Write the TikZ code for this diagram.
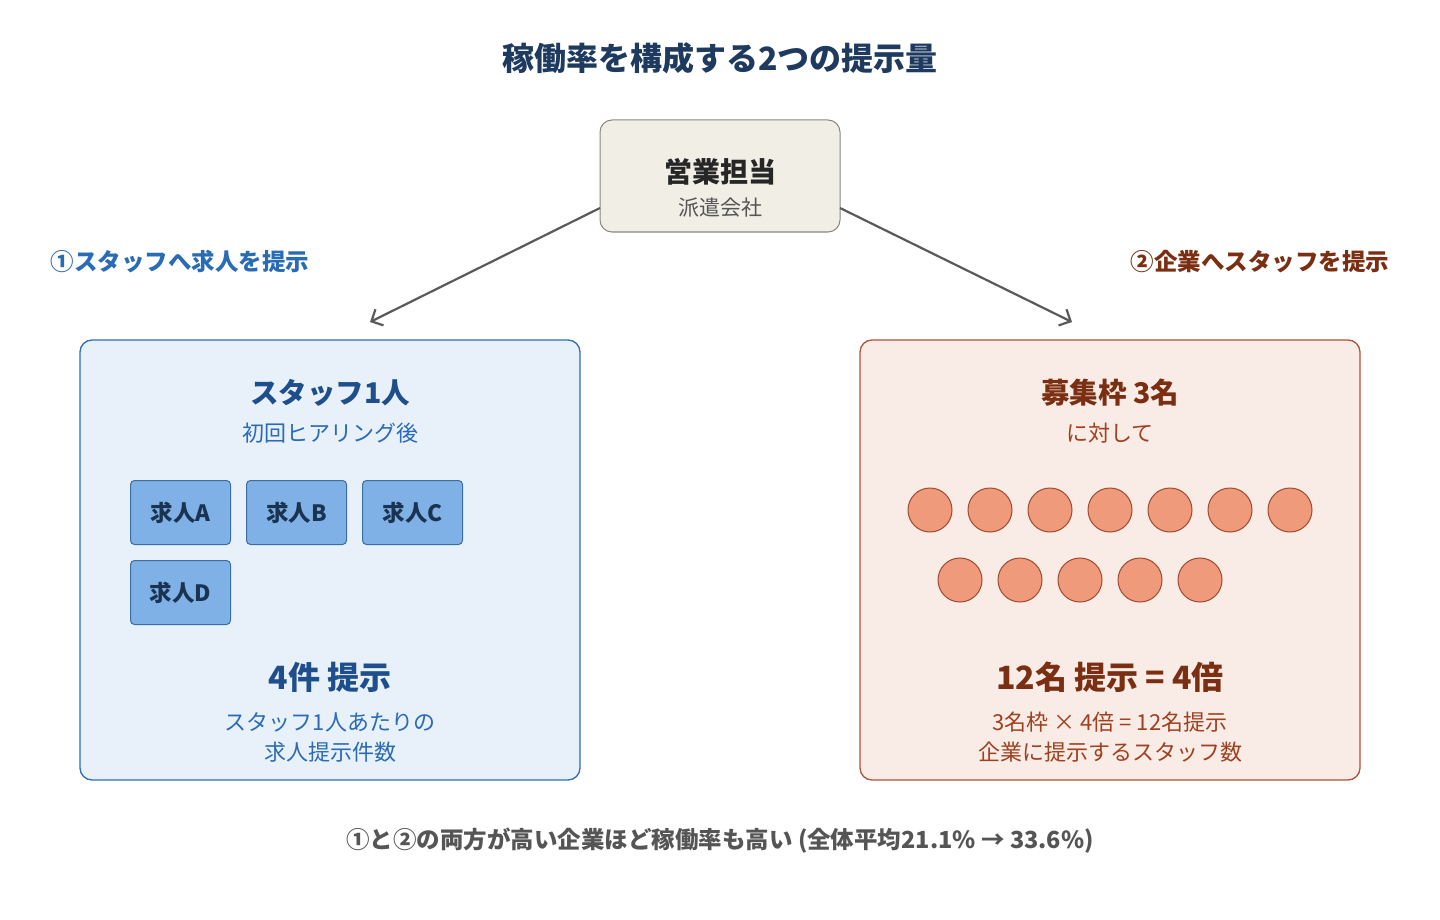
\documentclass[tikz,border=0pt]{standalone}
\usepackage{fontspec}
\setmainfont{Noto Sans CJK JP}
\begin{document}
\begin{tikzpicture}[x=1pt,y=-1pt,
  box/.style={rounded corners=12pt,line width=1.3pt},
  job/.style={draw=jobB,fill=jobF,rounded corners=4pt,line width=1pt,minimum width=100pt,minimum height=64pt,anchor=north west,font=\fontsize{22.5}{24}\selectfont\bfseries,text=navy},
  dot/.style={circle,draw=dotB,fill=dotF,line width=1pt,minimum size=44pt,inner sep=0pt},
  arr/.style={draw=arrG,line width=2.2pt,-{Straight Barb[length=9pt,width=18pt]}},
  t/.style={inner sep=0pt,anchor=center}]
\usetikzlibrary{arrows.meta}
\definecolor{navy}{HTML}{1A3350}
\definecolor{titleC}{HTML}{1F3A5F}
\definecolor{topF}{HTML}{F1EEE6}
\definecolor{topB}{HTML}{8A8780}
\definecolor{leftF}{HTML}{E8F0FA}
\definecolor{leftB}{HTML}{2F6DB5}
\definecolor{jobF}{HTML}{7FB1E6}
\definecolor{jobB}{HTML}{3A6EA5}
\definecolor{lT}{HTML}{1F4E8C}
\definecolor{lS}{HTML}{2A6BB5}
\definecolor{rightF}{HTML}{F9ECE6}
\definecolor{rightB}{HTML}{B0533A}
\definecolor{rT}{HTML}{7A2E12}
\definecolor{rS}{HTML}{A0401E}
\definecolor{dotF}{HTML}{EF9A7A}
\definecolor{dotB}{HTML}{A04A30}
\definecolor{arrG}{HTML}{5A5A5A}
\definecolor{gT}{HTML}{555555}
\useasboundingbox[fill=white] (0,0) rectangle (1440,920);
\node[t,text=titleC,font=\fontsize{32}{34}\selectfont\bfseries] (title) at (720,58) {稼働率を構成する2つの提示量};
\draw[box,draw=topB,fill=topF,line width=1pt] (600,120) rectangle (840,232);
\coordinate (tl) at (600,208); \coordinate (tr) at (840,208);
\node[t,text=black!85,font=\fontsize{28}{30}\selectfont\bfseries] (sales) at (720,172) {営業担当};
\node[t,text=gT,font=\fontsize{21}{22}\selectfont] (haken) at (720,208) {派遣会社};
\coordinate (al) at (370,322); \coordinate (ar) at (1072,322);
\draw[arr] (tl) -- (al);
\draw[arr] (tr) -- (ar);
\node[t,text=lS,font=\fontsize{23.5}{24}\selectfont\bfseries] (lab1) at (180,262) {①スタッフへ求人を提示};
\node[t,text=rT,font=\fontsize{23.5}{24}\selectfont\bfseries] (lab2) at (1260,262) {②企業へスタッフを提示};
% left
\draw[box,draw=leftB,fill=leftF] (80,340) rectangle (580,780);
\node[t,text=lT,font=\fontsize{28.5}{30}\selectfont\bfseries] (staff) at (330,393) {スタッフ1人};
\node[t,text=lS,font=\fontsize{22}{24}\selectfont] (hear) at (330,433) {初回ヒアリング後};
\node[job] (jA) at (130,480) {求人A};
\node[job] (jB) at (246,480) {求人B};
\node[job] (jC) at (362,480) {求人C};
\node[job] (jD) at (130,560) {求人D};
\node[t,text=lT,font=\fontsize{32}{34}\selectfont\bfseries] (four) at (330,677) {4件 提示};
\node[t,text=lS,font=\fontsize{22}{30}\selectfont,align=center] (ldesc) at (330,737) {スタッフ1人あたりの\\求人提示件数};
% right
\draw[box,draw=rightB,fill=rightF] (860,340) rectangle (1360,780);
\node[t,text=rT,font=\fontsize{28.5}{30}\selectfont\bfseries] (boshu) at (1110,393) {募集枠 3名};
\node[t,text=rS,font=\fontsize{22}{24}\selectfont] (taishi) at (1110,433) {に対して};
\foreach \i in {0,...,6} \node[dot] (d1\i) at (930+60*\i,510) {};
\foreach \i in {0,...,4} \node[dot] (d2\i) at (960+60*\i,580) {};
\node[t,text=rT,font=\fontsize{32}{34}\selectfont\bfseries] (twelve) at (1110,677) {12名 提示 = 4倍};
\node[t,text=rS,font=\fontsize{22}{30}\selectfont,align=center] (rdesc) at (1110,737) {3名枠 × 4倍 = 12名提示\\企業に提示するスタッフ数};
\node[t,text=gT,font=\fontsize{23.5}{24}\selectfont\bfseries] (foot) at (720,841) {①と②の両方が高い企業ほど稼働率も高い (全体平均21.1\% → 33.6\%)};
\end{tikzpicture}
\end{document}
